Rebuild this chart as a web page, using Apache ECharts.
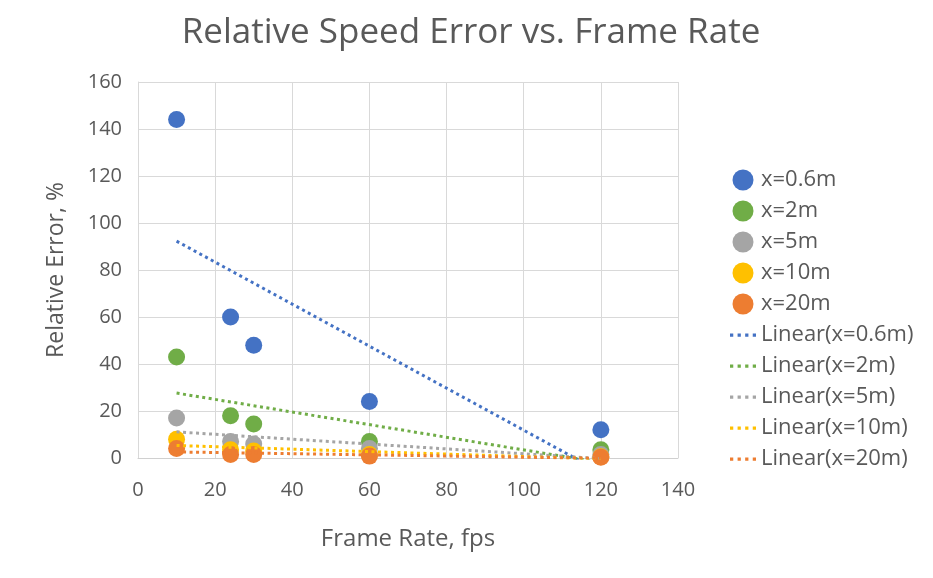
<!DOCTYPE html>
<html>
<head>
<meta charset="utf-8">
<script src="https://cdn.jsdelivr.net/npm/echarts@6/dist/echarts.min.js"></script>
<style>html,body{margin:0;padding:0;background:#fff}#c{width:933px;height:578px}</style>
</head>
<body>
<div id="c"></div>
<script>
const frameRates = [10, 24, 30, 60, 120];
const seriesNames = ['x=0.6m', 'x=2m', 'x=5m', 'x=10m', 'x=20m'];
const err06 = [144, 60, 48, 24, 12];
const err2 = [43, 18, 14.5, 7, 3.5];
const err5 = [17, 7, 6, 4, 1.5];
const err10 = [8, 3.5, 3, 1.5, 0.5];
const err20 = [4, 1.5, 1.5, 0.8, 0.3];
const xTicks = [0, 20, 40, 60, 80, 100, 120, 140];
const yTicks = [0, 20, 40, 60, 80, 100, 120, 140, 160];

const allValues = [err06, err2, err5, err10, err20];
const colors = ['#4472C4', '#70AD47', '#A5A5A5', '#FFC000', '#ED7D31'];
const textColor = '#595959';
const font = '"Open Sans", "Noto Sans", sans-serif';
const dotIcon = 'path://M0,0h3v3h-3zM7,0h3v3h-3zM14,0h3v3h-3zM21,0h3v3h-3z';

function linFit(xs, ys) {
  const n = xs.length;
  const mx = xs.reduce((a, b) => a + b, 0) / n;
  const my = ys.reduce((a, b) => a + b, 0) / n;
  let sxy = 0, sxx = 0;
  for (let i = 0; i < n; i++) { sxy += (xs[i] - mx) * (ys[i] - my); sxx += (xs[i] - mx) ** 2; }
  const b = sxy / sxx, a = my - b * mx;
  const x0 = Math.min(...xs), x1 = Math.max(...xs);
  return [[x0, a + b * x0], [x1, a + b * x1]];
}

const series = [];
seriesNames.forEach((n, i) => {
  series.push({
    name: n, type: 'scatter', symbol: 'circle', symbolSize: 17,
    itemStyle: { color: colors[i], opacity: 1 },
    data: frameRates.map((x, j) => [x, allValues[i][j]]),
    z: 3
  });
});
seriesNames.forEach((n, i) => {
  series.push({
    name: 'Linear(' + n + ')', type: 'line', symbol: 'none', clip: true,
    lineStyle: { color: colors[i], width: 3, type: [3, 3.5], cap: 'butt' },
    itemStyle: { color: colors[i] },
    data: linFit(frameRates, allValues[i]),
    z: 4
  });
});

const chart = echarts.init(document.getElementById('c'));
chart.setOption({
  animation: false,
  title: {
    text: 'Relative Speed Error vs. Frame Rate', left: 466, top: 11, textAlign: 'center',
    textStyle: { fontFamily: font, fontSize: 35, fontWeight: 'normal', color: textColor }
  },
  grid: { left: 138, right: 255, top: 82, bottom: 120 },
  legend: {
    orient: 'vertical', left: 725, top: 164, itemGap: 9, itemWidth: 26, itemHeight: 21,
    textStyle: { fontFamily: font, fontSize: 22, color: textColor },
    data: seriesNames.map(n => ({ name: n, icon: 'circle' }))
      .concat(seriesNames.map(n => ({ name: 'Linear(' + n + ')', icon: dotIcon })))
  },
  xAxis: {
    type: 'value', min: 0, max: 140, interval: 20,
    name: 'Frame Rate, fps', nameLocation: 'middle', nameGap: 69,
    nameTextStyle: { fontFamily: font, fontSize: 24, color: textColor },
    axisLine: { show: true, lineStyle: { color: '#D0D0D0' } },
    axisTick: { show: false },
    axisLabel: { fontFamily: font, fontSize: 20, color: textColor, margin: 22, formatter: v => xTicks.includes(v) ? String(v) : '' },
    splitLine: { show: true, lineStyle: { color: '#D9D9D9' } }
  },
  yAxis: {
    type: 'value', min: 0, max: 160, interval: 20,
    name: 'Relative Error, %', nameLocation: 'middle', nameGap: 70, nameRotate: 90,
    nameTextStyle: { fontFamily: font, fontSize: 23, color: textColor },
    axisLine: { show: true, lineStyle: { color: '#D9D9D9' } },
    axisTick: { show: false },
    axisLabel: { fontFamily: font, fontSize: 20, color: textColor, margin: 16, formatter: v => yTicks.includes(v) ? String(v) : '' },
    splitLine: { show: true, lineStyle: { color: '#D9D9D9' } }
  },
  series: series
});
</script>
</body>
</html>
